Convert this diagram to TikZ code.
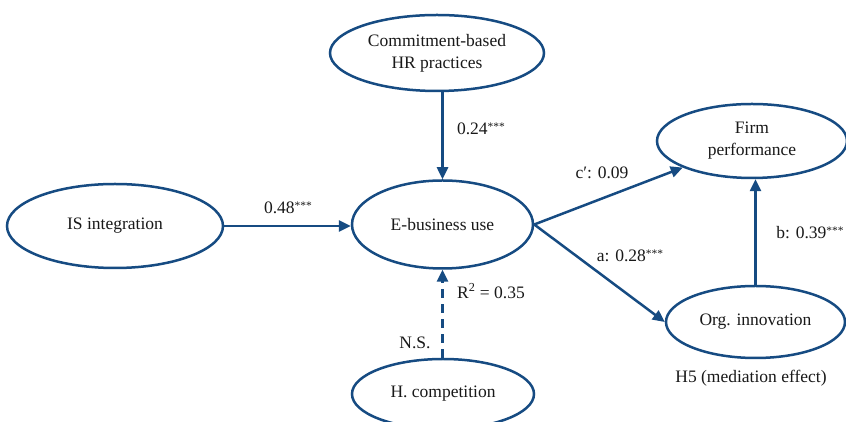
\documentclass[tikz,border=0pt]{standalone}
\usepackage{fontspec}
\setmainfont{Liberation Serif}
\usetikzlibrary{shapes.geometric,arrows.meta}
\definecolor{navy}{RGB}{22,75,130}
\newcommand{\mystars}{\raisebox{4pt}{\fontsize{11.5}{11.5}\selectfont***}}
\begin{document}
\begin{tikzpicture}[x=1pt,y=1pt,
  font=\fontsize{17.5}{22}\selectfont,
  oval/.style={ellipse,draw=navy,line width=2.5pt,inner sep=0pt,align=center,text=black!90},
  link/.style={draw=navy,line width=2.5pt,-{Triangle[length=12pt,width=11pt]}},
  lbl/.style={text=black!90,inner sep=0pt}]
\clip (0,0) rectangle (846,422);
\fill[white] (0,0) rectangle (846,422);
\node[oval,minimum width=214pt,minimum height=76pt] (com) at (437,369) {Commitment-based\\HR practices};
\node[oval,minimum width=216pt,minimum height=84pt] (isi) at (115,196) {IS integration};
\node[oval,minimum width=181pt,minimum height=88pt] (eb) at (442.5,197.5) {E-business use};
\node[oval,minimum width=190pt,minimum height=74pt] (fp) at (752,281) {Firm\\performance};
\node[oval,minimum width=179pt,minimum height=72pt] (oi) at (755.5,100) {Org. innovation};
\node[oval,minimum width=182pt,minimum height=70pt] (hc) at (443,28) {H. competition};
\draw[link] (eb.north |- com.south) -- (eb.north);
\draw[link] (isi.east) -- (isi.east -| eb.west);
\draw[link] (eb.east) -- (fp);
\draw[link] (eb.east) -- (oi.west);
\draw[link] (oi.north) -- (oi.north |- fp.south);
\draw[link,dash pattern=on 9pt off 6pt] (hc.north -| eb.south) -- (eb.south);
\node[lbl] (l1) at (481,293) {0.24\mystars};
\node[lbl] (l2) at (288,214) {0.48\mystars};
\node[lbl] (l3) at (602,249) {c′: 0.09};
\node[lbl] (l4) at (630,166) {a: 0.28\mystars};
\node[lbl] (l5) at (810,189) {b: 0.39\mystars};
\node[lbl] (l6) at (491,131) {R\textsuperscript{2} = 0.35};
\node[lbl] (l7) at (415,79) {N.S.};
\node[lbl] (l8) at (751,44) {H5 (mediation effect)};
\end{tikzpicture}
\end{document}
